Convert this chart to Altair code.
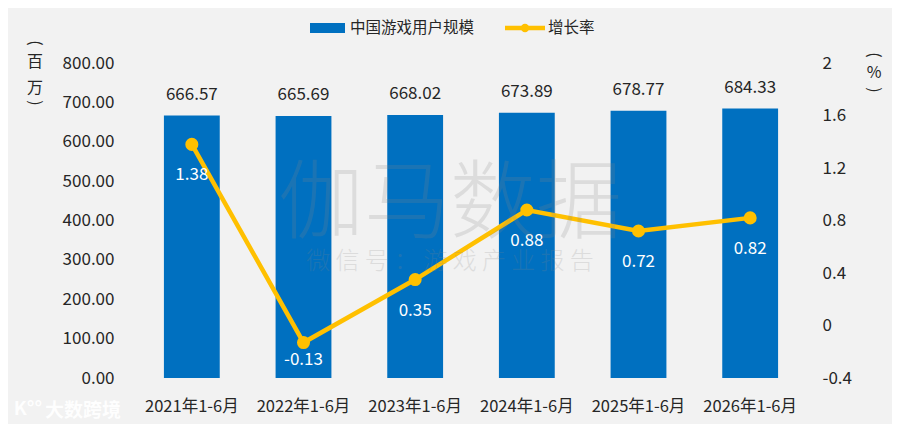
import altair as alt
import pandas as pd

FONT = "Noto Sans CJK SC"

periods = ["2021年1-6月", "2022年1-6月", "2023年1-6月", "2024年1-6月", "2025年1-6月", "2026年1-6月"]
users = [666.57, 665.69, 668.02, 673.89, 678.77, 684.33]
growth = [1.38, -0.13, 0.35, 0.88, 0.72, 0.82]
left_ticks = [0, 100, 200, 300, 400, 500, 600, 700, 800]
right_ticks = [-0.4, 0, 0.4, 0.8, 1.2, 1.6, 2]

df = pd.DataFrame({
    "period": periods,
    "users": users,
    "growth": growth,
    "growth_label": [f"{g:.2f}" for g in growth],
})

BLUE = "#0070c0"
YELLOW = "#ffc000"
TXT = "#262626"

base = alt.Chart(df)

x = alt.X(
    "period:N", sort=periods,
    scale=alt.Scale(paddingInner=0.5, paddingOuter=0.25),
    axis=alt.Axis(title=None, labelAngle=0, labelFontSize=16.5, labelColor=TXT,
                  labelPadding=20, domain=False, ticks=False, labelFont=FONT),
)

y_left = alt.Y(
    "users:Q", scale=alt.Scale(domain=[0, 800]),
    axis=alt.Axis(values=left_ticks, format=".2f", title=None, grid=False, domain=False,
                  ticks=False, labelFontSize=17, labelColor=TXT, labelPadding=22,
                  labelFont=FONT, orient="left"),
)

bars = base.mark_bar(color=BLUE).encode(x=x, y=y_left)
bar_labels = base.mark_text(dy=-16, baseline="alphabetic", fontSize=17, color=TXT, font=FONT).encode(
    x=x, y=y_left, text=alt.Text("users:Q", format=".2f")
)
left_layer = alt.layer(bars, bar_labels)

y_scale_r = alt.Scale(domain=[-0.4, 2], nice=False, zero=False)
y_right = alt.Y(
    "growth:Q", scale=y_scale_r,
    axis=alt.Axis(values=right_ticks, title=None, grid=False, domain=False, ticks=False,
                  labelFontSize=17, labelColor=TXT, labelPadding=16, labelFont=FONT,
                  orient="right",
                  labelExpr="replace(format(datum.value, '~g'), '\u2212', '-')"),
)

line = base.mark_line(color=YELLOW, strokeWidth=4.5).encode(x=x, y=y_right)
points = base.mark_point(filled=True, color=YELLOW, size=170, opacity=1).encode(x=x, y=y_right)
line_labels = base.transform_calculate(
    ly="max(datum.growth - 0.236, -0.265)"
).mark_text(fontSize=17, color="white", font=FONT, baseline="middle").encode(
    x=x, y=alt.Y("ly:Q", scale=y_scale_r), text="growth_label:N"
)
right_layer = alt.layer(line, points, line_labels)

one = alt.Chart(pd.DataFrame({"k": [0]}))

def txt(s, px, py, size=16, angle=0, color=TXT, **kw):
    props = dict(fontSize=size, color=color, font=FONT, baseline="middle", align="center")
    if angle:
        props["angle"] = angle
    props.update(kw)
    return one.mark_text(**props).encode(x=alt.value(px), y=alt.value(py), text=alt.value(s))

# Legend
leg_rect = one.mark_rect(color=BLUE).encode(
    x=alt.value(174), x2=alt.value(209), y=alt.value(-40), y2=alt.value(-30))
leg_text1 = txt("中国游戏用户规模", 214, -35, size=15.5, align="left")
leg_line = one.mark_rule(color=YELLOW, strokeWidth=4.5).encode(
    x=alt.value(369), x2=alt.value(409), y=alt.value(-35))
leg_pt = one.mark_point(filled=True, color=YELLOW, size=70, opacity=1).encode(
    x=alt.value(389), y=alt.value(-35))
leg_text2 = txt("增长率", 412, -35, size=15.5, align="left")

# Axis unit titles (vertical)
units = [
    txt("(", -101, -20, angle=90),
    txt("百", -101, -1),
    txt("万", -101, 25),
    txt(")", -101, 40, angle=90),
    txt("(", 738, -8, angle=90),
    txt("%", 738, 10),
    txt(")", 738, 27, angle=90),
]

# Watermarks
wm1 = txt("伽马数据", 314, 143, size=86, color="#888888", opacity=0.2, fontWeight=300)
wm2 = txt("微 信 号 ： 游 戏 产 业 报 告", 314, 199, size=24, color="#888888", opacity=0.2, fontWeight=300)
wm3 = txt("大数跨境", -53, 348, size=19, color="white", opacity=0.95, fontWeight="bold")
wm4 = txt("K°°", -108, 346, size=19, color="white", opacity=0.95, fontWeight="bold")

chart = alt.layer(
    wm3, wm4, left_layer, right_layer, wm1, wm2,
    leg_rect, leg_text1, leg_line, leg_pt, leg_text2, *units,
).resolve_scale(y="independent").properties(
    width=670, height=315,
    autosize=alt.AutoSizeParams(type="none"),
    padding={"left": 128, "top": 55, "right": 86, "bottom": 46},
    background="#f2f2f2",
).configure_view(stroke=None)

chart.save("out.html", embed_options={"renderer": "svg", "actions": False})
